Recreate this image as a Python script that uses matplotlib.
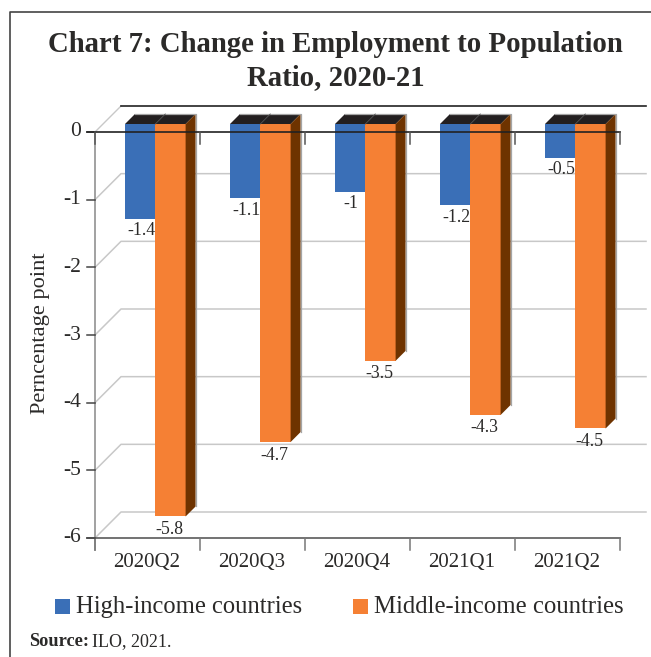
import matplotlib
matplotlib.use("Agg")
import matplotlib.pyplot as plt
from matplotlib.patches import Polygon, Rectangle
from matplotlib.lines import Line2D

categories = ["2020Q2", "2020Q3", "2020Q4", "2021Q1", "2021Q2"]
high_income = [-1.4, -1.1, -1.0, -1.2, -0.5]
middle_income = [-5.8, -4.7, -3.5, -4.3, -4.5]
high_labels = ["-1.4", "-1.1", "-1", "-1.2", "-0.5"]
middle_labels = ["-5.8", "-4.7", "-3.5", "-4.3", "-4.5"]
yticks = [0, -1, -2, -3, -4, -5, -6]

W, H = 651, 657
DPI = 100
plt.rcParams["font.family"] = ["Liberation Serif", "DejaVu Serif"]
TXT = "#2b2a29"

fig = plt.figure(figsize=(W / DPI, H / DPI), dpi=DPI)
fx, fy = (lambda p: p / W), (lambda p: 1 - p / H)
L, R, T, B = 95, 620, 132, 538
ax = fig.add_axes([fx(L), fy(B), (R - L) / W, (B - T) / H])
ax.set_xlim(0, 5)
ax.set_ylim(-6, 0)
ax.axis("off")
ux, uy = 5 / (R - L), 6 / (B - T)     # data units per pixel


def line(xs, ys, **kw):
    ax.add_line(Line2D(xs, ys, clip_on=False, **kw))


# back wall
wall = 26
for v in yticks:
    x1, y1 = wall * ux, v + wall * uy
    x2 = 5 + wall * ux
    if v == 0:
        line([0, x1], [v, y1], color="#c8c8c8", lw=1, zorder=1)
        line([x1, x2], [y1, y1], color="#222222", lw=1.2, zorder=1)
    else:
        line([0, x1, x2], [v, y1, y1], color="#c8c8c8", lw=1.1, zorder=1)

# bars
bw = 30.3 * ux
depth_x, depth_y = 10 * ux, 10 * uy
front_dy = 8 * uy
start = 30 * ux
BLUE, ORANGE, SIDE, TOP = "#3a6fb7", "#f58034", "#6e3300", "#231f20"
for i, (h, m) in enumerate(zip(high_income, middle_income)):
    x_h = i + start
    x_m = x_h + bw
    ax.bar(x_h, h, bw, bottom=front_dy, align="edge", color=BLUE, clip_on=False, zorder=3)
    ax.bar(x_m, m, bw, bottom=front_dy, align="edge", color=ORANGE, clip_on=False, zorder=3)
    x_e = x_m + bw
    top = front_dy
    ax.add_patch(Polygon([(x_h, top), (x_h + depth_x, top + depth_y), (x_e + depth_x, top + depth_y), (x_e, top)],
                         closed=True, fc=TOP, ec="none", clip_on=False, zorder=3))
    line([x_m, x_m + depth_x], [top, top + depth_y], color="#555555", lw=0.6, zorder=3.2)
    line([x_h + depth_x, x_e + depth_x, x_e + depth_x], [top + depth_y, top + depth_y, m + front_dy + depth_y],
         color="#a5a5a5", lw=0.9, zorder=3.1)
    ax.add_patch(Polygon([(x_e, top), (x_e + depth_x, top + depth_y), (x_e + depth_x, m + front_dy + depth_y),
                          (x_e, m + front_dy)], closed=True, fc=SIDE, ec="none", clip_on=False, zorder=3))
    ax.text(x_h + 16 * ux, h + front_dy - 12 * uy, high_labels[i], ha="center", va="center",
            fontsize=12.8, color=TXT, zorder=5, clip_on=False)
    ax.text(x_m + bw / 2 - 1 * ux, m + front_dy - 13 * uy, middle_labels[i], ha="center", va="center",
            fontsize=12.8, color=TXT, zorder=5, clip_on=False)

# axes lines
line([0, 0], [0, -6 - 12 * uy], color="#9a9a9a", lw=1.3, zorder=2)
line([-8 * ux, 5], [0, 0], color="#222222", lw=1.2, zorder=6)
line([-8 * ux, 5], [-6, -6], color="#5a5a5a", lw=1.2, zorder=2)
for k in range(6):
    line([k, k], [0, -12 * uy], color="#555555", lw=1.1, zorder=6)
    line([k, k], [-6, -6 - 12 * uy], color="#777777", lw=1.1, zorder=2)
for v in yticks:
    line([-8 * ux, 0], [v, v], color="#444444", lw=1.1, zorder=2)
    ax.text(-14 * ux, v, str(v), ha="right", va="center", fontsize=15.5, color=TXT, clip_on=False)
for i, c in enumerate(categories):
    ax.text(i + 0.5 - 1 * ux, -6 - 24 * uy, c, ha="center", va="center", fontsize=15, color=TXT, clip_on=False)

# frame
fig.add_artist(Line2D([fx(10), fx(10), 1], [0, fy(12), fy(12)], color="#444444", lw=1.2))

# titles
fig.text(fx(335.5), fy(45), "Chart 7: Change in Employment to Population", ha="center", va="center",
         fontsize=20.7, fontweight="bold", color=TXT)
fig.text(fx(335.5), fy(78), "Ratio, 2020-21", ha="center", va="center",
         fontsize=20.7, fontweight="bold", color=TXT)
fig.text(fx(41), fy(333), "Perncentage point", rotation=90, ha="center", va="center",
         fontsize=16.1, color=TXT)

# legend
for xp, col in [(55, BLUE), (353, ORANGE)]:
    fig.add_artist(Rectangle((fx(xp), fy(614)), 15 / W, 15 / H, fc=col, ec="none", transform=fig.transFigure))
fig.text(fx(76), fy(607), "High-income countries", ha="left", va="center", fontsize=17.7, color=TXT)
fig.text(fx(374), fy(607), "Middle-income countries", ha="left", va="center", fontsize=17.8, color=TXT)

# source
fig.text(fx(29), fy(642), "Source:", ha="left", va="center", fontsize=13.2, fontweight="bold", color=TXT)
fig.text(fx(92), fy(642), "ILO, 2021.", ha="left", va="center", fontsize=13, color=TXT)

fig.savefig("out.png", dpi=DPI)
